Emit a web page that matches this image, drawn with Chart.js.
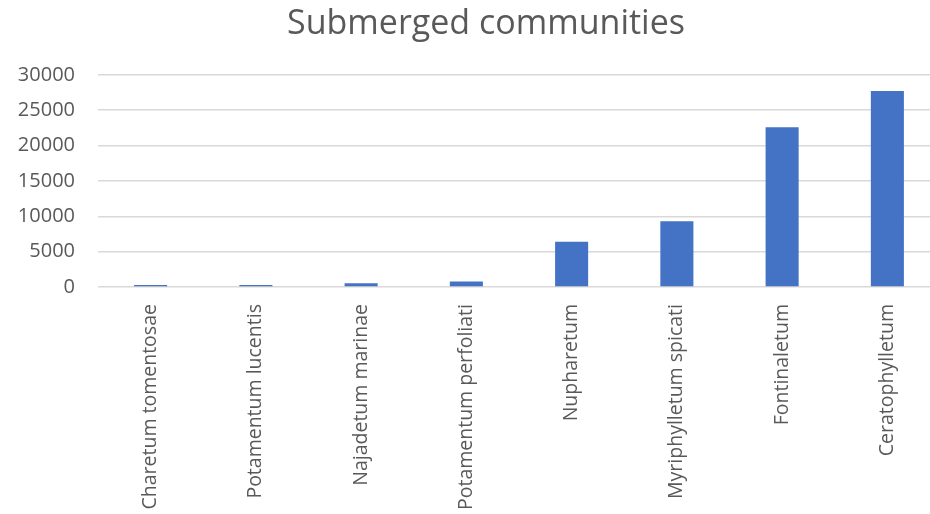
<!DOCTYPE html>
<html>
<head>
<meta charset="utf-8">
<script src="https://cdn.jsdelivr.net/npm/chart.js@4"></script>
<style>
  html, body { margin: 0; padding: 0; background: #fff; overflow: hidden; }
  .chart-wrap { position: relative; width: 972px; height: 519px; }
</style>
</head>
<body>
<div class="chart-wrap"><canvas id="submergedChart"></canvas></div>
<script>
const chartTitle = 'Submerged communities';

const communities = [
  'Charetum tomentosae',
  'Potamentum lucentis',
  'Najadetum marinae',
  'Potamentum perfoliati',
  'Nupharetum',
  'Myriphylletum spicati',
  'Fontinaletum',
  'Ceratophylletum'
];

const areaValues = [300, 300, 550, 800, 6400, 9300, 22600, 27700];

const yAxisMin = 0;
const yAxisMax = 30000;
const yAxisStep = 5000;

const textColor = '#595959';
const gridColor = '#d9d9d9';
const barColor = '#4472c4';

// y labels are wider than the axis box we force; widen the clip after layout
const labelRoom = {
  id: 'labelRoom',
  afterLayout(chart) {
    chart.scales.y.left = 0;
  }
};

const ctx = document.getElementById('submergedChart').getContext('2d');

new Chart(ctx, {
  type: 'bar',
  data: {
    labels: communities,
    datasets: [{
      label: chartTitle,
      data: areaValues,
      backgroundColor: barColor,
      borderWidth: 0,
      categoryPercentage: 1,
      barPercentage: 0.314
    }]
  },
  options: {
    responsive: true,
    maintainAspectRatio: false,
    animation: false,
    layout: {
      padding: { left: 32, right: 32, top: 4, bottom: 0 }
    },
    scales: {
      x: {
        grid: { display: false },
        border: { display: false },
        ticks: {
          color: textColor,
          font: { family: 'Open Sans', size: 19.5 },
          minRotation: 90,
          maxRotation: 90,
          padding: 9,
          autoSkip: false
        }
      },
      y: {
        min: yAxisMin,
        max: yAxisMax,
        border: { display: false },
        grid: { color: gridColor, lineWidth: 1.5, drawTicks: false },
        ticks: {
          stepSize: yAxisStep,
          color: textColor,
          font: { family: 'Open Sans', size: 20 },
          padding: 23,
          callback: (value) => String(value)
        },
        afterFit: (scale) => {
          scale.width = 66;
        }
      }
    },
    plugins: {
      legend: { display: false },
      tooltip: { enabled: false },
      title: {
        display: true,
        text: chartTitle,
        color: textColor,
        font: { family: 'Open Sans', size: 34, weight: 'normal' },
        padding: { top: 0, bottom: 30 }
      }
    }
  },
  plugins: [labelRoom]
});
</script>
</body>
</html>
